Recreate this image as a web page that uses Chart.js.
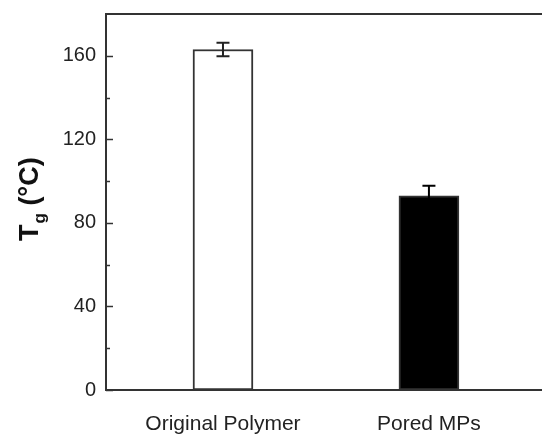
<!DOCTYPE html>
<html>
<head>
<meta charset="utf-8">
<script src="https://cdn.jsdelivr.net/npm/chart.js@4"></script>
<style>
  html, body { margin: 0; padding: 0; background: #fff; }
  #c { display: block; }
</style>
</head>
<body>
<canvas id="c" width="542" height="435"></canvas>
<script>
// Données
const categories = ['Original Polymer', 'Pored MPs']
const tgValues = [163, 93]
const tgErrors = [3.2, 4.8]
const barColors = ['#ffffff', '#000000']
const yTicks = [0, 40, 80, 120, 160]
const yMinorTicks = [20, 60, 100, 140]

const INK = '#333333'
const FONT = '"Liberation Sans", Arial, sans-serif'

// Ticks intérieurs + cadre du haut
const innerTicks = {
  id: 'innerTicks',
  afterDraw(chart) {
    const { ctx, chartArea: a, scales: { y } } = chart
    ctx.save()
    ctx.strokeStyle = INK
    ctx.lineWidth = 2
    ctx.beginPath()
    ctx.moveTo(a.left - 1, a.top)
    ctx.lineTo(a.right, a.top)
    ctx.stroke()
    ctx.lineWidth = 1.5
    yTicks.forEach(v => {
      const py = Math.round(y.getPixelForValue(v)) + 0.5
      ctx.beginPath(); ctx.moveTo(a.left, py); ctx.lineTo(a.left + 7, py); ctx.stroke()
    })
    yMinorTicks.forEach(v => {
      const py = Math.round(y.getPixelForValue(v)) + 0.5
      ctx.beginPath(); ctx.moveTo(a.left, py); ctx.lineTo(a.left + 4, py); ctx.stroke()
    })
    ctx.restore()
  }
}

// Barres d'erreur
const errorBars = {
  id: 'errorBars',
  afterDatasetsDraw(chart) {
    const { ctx, scales: { x, y } } = chart
    ctx.save()
    ctx.strokeStyle = '#222'
    ctx.lineWidth = 2
    tgValues.forEach((v, i) => {
      const px = x.getPixelForValue(i + 1)
      const top = y.getPixelForValue(v + tgErrors[i])
      const bot = y.getPixelForValue(v - tgErrors[i])
      ctx.strokeStyle = barColors[i] === '#000000' ? '#000' : '#222'
      ctx.beginPath()
      ctx.moveTo(px, top); ctx.lineTo(px, bot)
      ctx.moveTo(px - 6.5, top); ctx.lineTo(px + 6.5, top)
      ctx.moveTo(px - 6.5, bot); ctx.lineTo(px + 6.5, bot)
      ctx.stroke()
    })
    ctx.restore()
  }
}

// Titre de l'axe Y : T avec indice g
const yTitle = {
  id: 'yTitle',
  afterDraw(chart) {
    const { ctx } = chart
    ctx.save()
    ctx.translate(38, 241)
    ctx.rotate(-Math.PI / 2)
    ctx.fillStyle = '#111'
    ctx.textBaseline = 'alphabetic'
    ctx.textAlign = 'left'
    ctx.font = 'bold 27px ' + FONT
    ctx.fillText('T', 0, 0)
    let w = ctx.measureText('T').width
    ctx.font = 'bold 17px ' + FONT
    ctx.fillText('g', w + 1, 7)
    w += ctx.measureText('g').width + 1
    ctx.font = 'bold 27px ' + FONT
    ctx.fillText(' (°C)', w, 0)
    ctx.restore()
  }
}

new Chart(document.getElementById('c'), {
  type: 'bar',
  data: {
    datasets: [{
      data: tgValues.map((v, i) => ({ x: i + 1, y: v })),
      backgroundColor: barColors,
      borderColor: INK,
      borderWidth: 2,
      borderSkipped: false,
      barThickness: 60,
    }]
  },
  options: {
    responsive: false,
    animation: false,
    layout: { padding: { top: 14, right: 0, left: 0, bottom: 0 } },
    plugins: { legend: { display: false }, tooltip: { enabled: false } },
    scales: {
      x: {
        type: 'linear',
        offset: false,
        min: 0.432,
        max: 2.549,
        grid: { display: false, drawTicks: false },
        border: { display: true, color: INK, width: 2 },
        afterBuildTicks: s => { s.ticks = categories.map((c, i) => ({ value: i + 1 })) },
        afterFit: s => { s.height = 45; s.paddingLeft = 0; s.paddingRight = 0 },
        ticks: {
          color: '#222',
          padding: 22,
          maxRotation: 0,
          autoSkip: false,
          font: { family: FONT, size: 21 },
          callback: v => categories[v - 1] || ''
        }
      },
      y: {
        min: 0,
        max: 180,
        grid: { display: false, drawTicks: false },
        border: { display: true, color: INK, width: 2 },
        afterBuildTicks: s => { s.ticks = yTicks.map(v => ({ value: v })) },
        afterFit: s => { s.width = 106; s.paddingTop = 0; s.paddingBottom = 0 },
        ticks: {
          color: '#222',
          padding: 10,
          font: { family: FONT, size: 20 }
        }
      }
    }
  },
  plugins: [innerTicks, errorBars, yTitle]
})
</script>
</body>
</html>
